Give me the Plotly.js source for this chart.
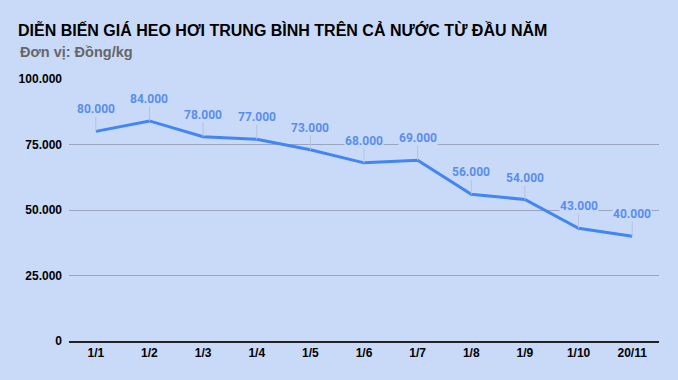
<!DOCTYPE html>
<html><head><meta charset="utf-8">
<script src="https://cdn.plot.ly/plotly-3.0.1.min.js"></script>
<style>html,body{margin:0;padding:0;background:#c9daf8;}#chart{width:678px;height:380px;}</style>
</head><body><div id="chart"></div>
<script>
const categories = ["1/1","1/2","1/3","1/4","1/5","1/6","1/7","1/8","1/9","1/10","20/11"];
const prices = [80000,84000,78000,77000,73000,68000,69000,56000,54000,43000,40000];
const yTicks = [0,25000,50000,75000,100000];
const titleText = "DIỄN BIẾN GIÁ HEO HƠI TRUNG BÌNH TRÊN CẢ NƯỚC TỪ ĐẦU NĂM";
const subtitleText = "Đơn vị: Đồng/kg";

const fmt = v => String(v).replace(/\B(?=(\d{3})+(?!\d))/g, '.');
const bg = '#c9daf8';
const lineColor = '#4285f4';

const annotations = categories.map((c,i)=>({
  x: c, y: prices[i], xref:'x', yref:'y',
  text: fmt(prices[i]), showarrow:true, arrowhead:0, arrowwidth:1,
  arrowcolor:'#b4c3dc', ax:0, ay:-22,
  font:{family:'Roboto, Arial, sans-serif', size:12, color:'#5a8ded', weight:'bold'},
  bgcolor:bg, borderpad:0
}));
annotations.push({
  xref:'paper', yref:'paper', x:(18-69)/590, y:1+(79-52)/262,
  xanchor:'left', yanchor:'middle', showarrow:false,
  text:'<b>'+subtitleText+'</b>',
  font:{family:'Liberation Sans, Arial, sans-serif', size:14.5, color:'#666666'}
});

Plotly.newPlot('chart', [{
  x: categories, y: prices, type:'scatter', mode:'lines',
  line:{color:lineColor, width:3}, hoverinfo:'skip'
}], {
  width:678, height:380,
  paper_bgcolor:bg, plot_bgcolor:bg,
  separators:',.',
  margin:{l:69, r:19, t:79, b:39},
  title:{text:titleText, xref:'container', yref:'container',
    x:18/678, xanchor:'left', y:1-30/380, yanchor:'middle',
    font:{family:'Liberation Sans, Arial, sans-serif', size:16, color:'#000000', weight:'bold'}},
  xaxis:{type:'category', range:[-0.5,10.5], showgrid:false, showline:true,
    linecolor:'#222222', linewidth:1.5, ticks:'', zeroline:false,
    tickfont:{family:'Liberation Sans, Arial, sans-serif', size:12, color:'#000', weight:'bold'}},
  yaxis:{range:[0,100000], tickvals:yTicks, tickformat:',d', showgrid:true,
    gridcolor:'#9ba6be', gridwidth:1, zeroline:false, showline:false, ticks:'',
    ticklabelstandoff:6,
    tickfont:{family:'Liberation Sans, Arial, sans-serif', size:12, color:'#000', weight:'bold'}},
  annotations: annotations,
  showlegend:false
}, {staticPlot:true});
</script></body></html>
